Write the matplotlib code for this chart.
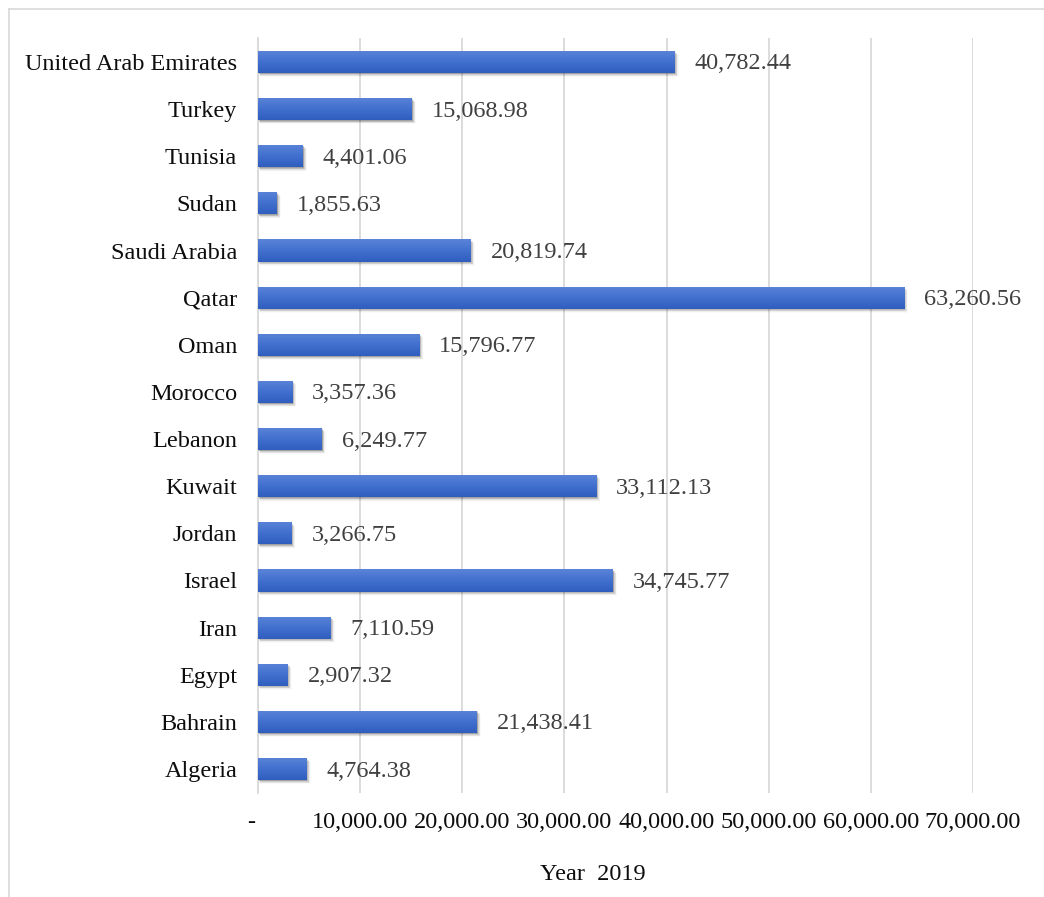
import matplotlib
matplotlib.use("Agg")
import matplotlib.pyplot as plt
import numpy as np
from matplotlib.patches import Rectangle
from matplotlib.lines import Line2D
from matplotlib.colors import LinearSegmentedColormap
from matplotlib.transforms import offset_copy, ScaledTranslation

countries = ["United Arab Emirates", "Turkey", "Tunisia", "Sudan", "Saudi Arabia",
             "Qatar", "Oman", "Morocco", "Lebanon", "Kuwait", "Jordan", "Israel",
             "Iran", "Egypt", "Bahrain", "Algeria"]
values = [40782.44, 15068.98, 4401.06, 1855.63, 20819.74, 63260.56, 15796.77,
          3357.36, 6249.77, 33112.13, 3266.75, 34745.77, 7110.59, 2907.32,
          21438.41, 4764.38]
x_ticks = [0, 10000, 20000, 30000, 40000, 50000, 60000, 70000]
x_tick_labels = ["-", "10,000.00", "20,000.00", "30,000.00", "40,000.00",
                 "50,000.00", "60,000.00", "70,000.00"]
x_title = "Year  2019"

plt.rcParams["font.family"] = ["Liberation Serif", "DejaVu Serif"]

W, H = 1044, 897
FS = 17.5
fig = plt.figure(figsize=(W / 100, H / 100), dpi=100)
ax = fig.add_axes([258 / W, 1 - 792.6 / H, (973 - 258) / W, (792.6 - 38.4) / H])

# outer chart border (left and top edges only)
bx, by = 8.5 / W, 1 - 9.5 / H
fig.lines.append(Line2D([bx, bx], [0, by], transform=fig.transFigure,
                        color="#d9d9d9", linewidth=1.2))
fig.lines.append(Line2D([bx, 1], [by, by], transform=fig.transFigure,
                        color="#d9d9d9", linewidth=1.2))

n = len(countries)
ypos = np.arange(n)[::-1]
bar_h = 0.47

grad = LinearSegmentedColormap.from_list("bar", ["#2f5ebf", "#4270cf", "#5b84d8"])
gradient = np.linspace(0, 1, 64).reshape(-1, 1)

label_tf = offset_copy(ax.transData, fig=fig, x=20, y=-2, units="dots")

for y, v in zip(ypos, values):
    # soft drop shadow below each bar
    for k, a in zip(range(1, 7), [0.13, 0.10, 0.08, 0.06, 0.04, 0.02]):
        off = 0.014 * k
        ax.add_patch(Rectangle((40 * k, y - bar_h / 2 - off), v + 25 * k, bar_h,
                               facecolor="black", alpha=a, edgecolor="none", zorder=2))
    rect = Rectangle((0, y - bar_h / 2), v, bar_h, facecolor="#4472c4",
                     edgecolor="none", zorder=3)
    ax.add_patch(rect)
    im = ax.imshow(gradient, cmap=grad, aspect="auto", origin="lower",
                   extent=(0, v, y - bar_h / 2, y + bar_h / 2), zorder=4,
                   interpolation="bilinear")
    im.set_clip_path(rect)
    ax.text(v, y, f"{v:,.2f}", va="center", ha="left", fontsize=FS,
            color="#404040", zorder=5, transform=label_tf)

ax.set_xlim(0, 70000)
ax.set_ylim(-0.5, n - 0.5)
ax.set_yticks(ypos)
ax.set_yticklabels(countries, fontsize=FS, color="#0d0d0d")
ax.set_xticks(x_ticks)
ax.set_xticklabels(x_tick_labels, fontsize=FS, color="#0d0d0d")
ax.tick_params(axis="both", length=0)
ax.tick_params(axis="y", pad=15)
ax.tick_params(axis="x", pad=14)
# the zero label sits slightly left of the axis line
zero_lbl = ax.get_xticklabels()[0]
zero_lbl.set_transform(zero_lbl.get_transform() + ScaledTranslation(-7 / 100, 0, fig.dpi_scale_trans))
ax.grid(axis="x", color="#d9d9d9", linewidth=1.3, zorder=0)
ax.set_axisbelow(True)
for s in ["top", "right", "bottom"]:
    ax.spines[s].set_visible(False)
ax.spines["left"].set_color("#d9d9d9")
ax.spines["left"].set_linewidth(1.3)

ax.set_xlabel(x_title, fontsize=FS, color="#0d0d0d")
ax.xaxis.set_label_coords((593 - 258) / (973 - 258), -0.095)

fig.savefig("out.png", dpi=100)
